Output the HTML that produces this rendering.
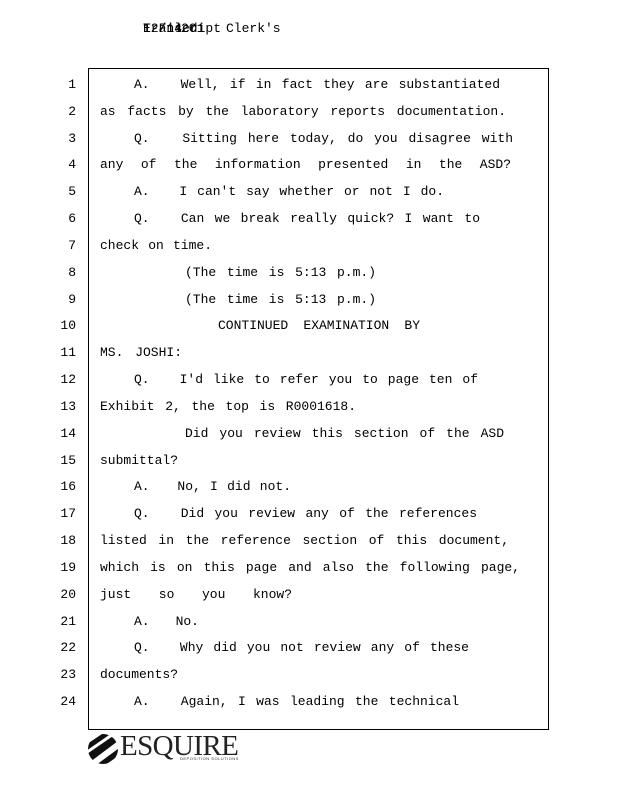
<!DOCTYPE html>
<html><head><meta charset="utf-8"><style>
body{margin:0;width:618px;height:800px;background:#fff;position:relative;overflow:hidden;font-family:"Liberation Mono",monospace;color:#000}
.t{position:absolute;font-size:13px;line-height:16px;white-space:pre}
.n{position:absolute;left:40px;width:36px;text-align:right;font-size:13px;line-height:16px}
.box{position:absolute;left:88px;top:68px;width:461px;height:662px;border:1px solid #000;box-sizing:border-box}
.h{position:absolute;left:143px;top:21px;font-size:13px;line-height:16px}
</style></head><body>
<div class="h">E-Filed</div><div class="h">Transcript</div><div class="h">12/14</div><div class="h" style="left:226px">Clerk's</div><div class="h" style="left:181px">2C1</div>
<div class="box"></div>
<div id="c"></div>
<svg style="position:absolute;left:86px;top:732px" width="34" height="34" viewBox="0 0 34 34">
<defs><clipPath id="cl"><circle cx="17" cy="17" r="15"/></clipPath></defs>
<g clip-path="url(#cl)" fill="#111">
<path d="M-2 24 L30 2 L36 6 L4 30Z"/><path d="M-2 14 L22 -2 L26 1 L0 19Z"/><path d="M6 36 L36 14 L38 20 L12 38Z"/>
</g></svg>
<div style="position:absolute;left:120px;top:731px;font-family:'Liberation Serif',serif;font-size:29px;line-height:30px;color:#222;letter-spacing:-0.6px">ESQUIRE</div>
<div style="position:absolute;left:180px;top:756px;font-family:'Liberation Sans',sans-serif;font-size:4px;color:#333;letter-spacing:0.5px">DEPOSITION SOLUTIONS</div>
<script>
var L=[[134,366,"A.   Well, if in fact they are substantiated"],
[100,406,"as facts by the laboratory reports documentation."],
[134,379,"Q.   Sitting here today, do you disagree with"],
[100,411,"any of the information presented in the ASD?"],
[134,310,"A.   I can't say whether or not I do."],
[134,346,"Q.   Can we break really quick? I want to"],
[100,112,"check on time."],
[185,191,"(The time is 5:13 p.m.)"],
[185,191,"(The time is 5:13 p.m.)"],
[218,202,"CONTINUED EXAMINATION BY"],
[100,82,"MS. JOSHI:"],
[134,344,"Q.   I'd like to refer you to page ten of"],
[100,256,"Exhibit 2, the top is R0001618."],
[185,319,"Did you review this section of the ASD"],
[100,80,"submittal?"],
[134,157,"A.   No, I did not."],
[134,343,"Q.   Did you review any of the references"],
[100,409,"listed in the reference section of this document,"],
[100,420,"which is on this page and also the following page,"],
[100,192,"just so you know?"],
[134,65,"A.   No."],
[134,335,"Q.   Why did you not review any of these"],
[100,80,"documents?"],
[134,325,"A.   Again, I was leading the technical"]];
var c=document.getElementById("c");
for(var i=0;i<24;i++){var y=Math.round(85+i*26.83)-8;
var n=document.createElement("div");n.className="n";n.style.top=y+"px";n.textContent=i+1;c.appendChild(n);
var d=document.createElement("div");d.className="t";d.style.left=L[i][0]+"px";d.style.top=y+"px";d.textContent=L[i][2];c.appendChild(d);
var w=d.getBoundingClientRect().width,s=(L[i][2].match(/ /g)||[]).length;
if(s&&L[i][1]>w)d.style.wordSpacing=((L[i][1]-w)/s)+"px";}
</script>
</body></html>
